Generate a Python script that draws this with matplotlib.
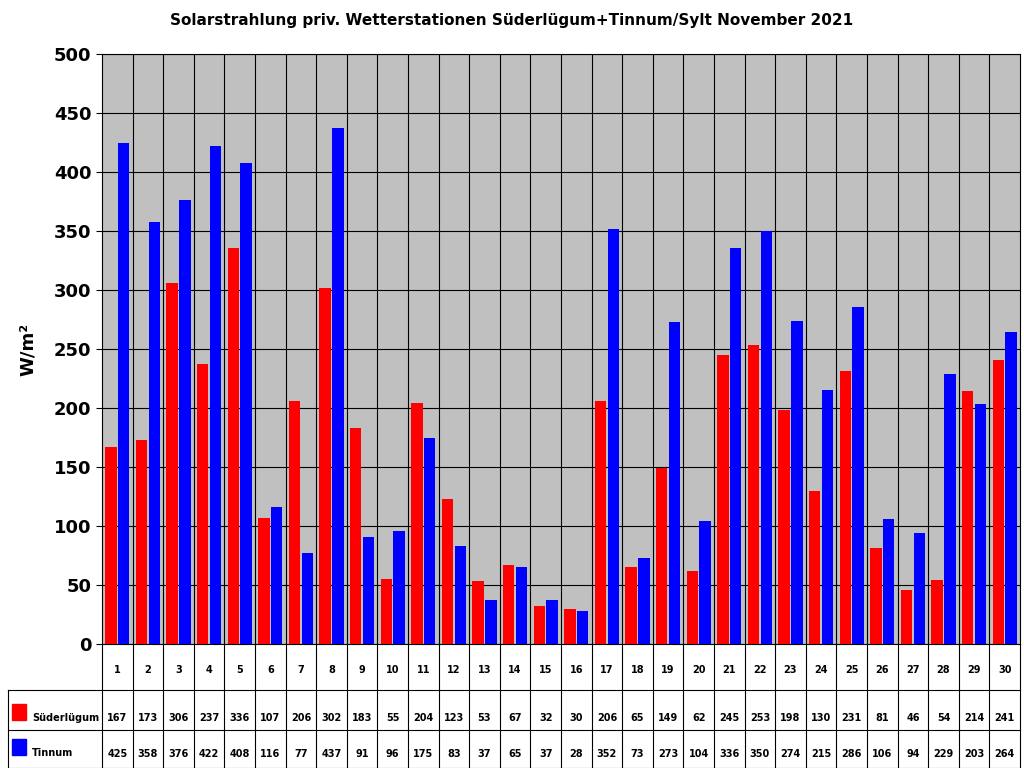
import matplotlib
matplotlib.use("Agg")
import matplotlib.pyplot as plt
from matplotlib.lines import Line2D
from matplotlib.patches import Rectangle

days = list(range(1, 31))
suederluegum = [167,173,306,237,336,107,206,302,183,55,204,123,53,67,32,30,206,65,149,62,245,253,198,130,231,81,46,54,214,241]
tinnum = [425,358,376,422,408,116,77,437,91,96,175,83,37,65,37,28,352,73,273,104,336,350,274,215,286,106,94,229,203,264]
title = "Solarstrahlung priv. Wetterstationen Süderlügum+Tinnum/Sylt November 2021"

W, H = 1024, 768
fig = plt.figure(figsize=(W/100, H/100), dpi=100)
L, R, T, B = 102, 1020, 54, 644
ax = fig.add_axes([L/W, 1-B/H, (R-L)/W, (B-T)/H])
ax.set_facecolor("#c0c0c0")
n = len(days)
x = list(range(n))
ax.bar([i+0.29 for i in x], suederluegum, width=0.37, color="#ff0000", zorder=3)
ax.bar([i+0.71 for i in x], tinnum, width=0.37, color="#0000ff", zorder=3)
ax.set_xlim(0, n)
ax.set_ylim(0, 500)
ax.set_yticks(range(0, 501, 50))
ax.set_xticks([])
for i in range(1, n):
    ax.axvline(i, color="black", lw=0.8, zorder=1)
ax.grid(axis="y", color="black", lw=0.8, zorder=1)
ax.tick_params(axis="y", labelsize=13, length=4)
for lab in ax.get_yticklabels():
    lab.set_fontweight("bold")
ax.set_ylabel("W/m²", fontsize=13, fontweight="bold", labelpad=12)
fig.text(0.5, 1-20/H, title, ha="center", va="center", fontsize=11, fontweight="bold")

def fx(px): return px/W
def fy(py): return 1-py/H
def line(x0, y0, x1, y1):
    fig.add_artist(Line2D([fx(x0), fx(x1)], [fy(y0), fy(y1)], color="black", lw=0.8))

cw = (R-L)/n
rows = [644, 690, 730, 768]
for i in range(n+1):
    line(L+i*cw, 644, L+i*cw, 767)
for y in rows[1:]:
    line(8, y-0.5 if y == 768 else y, R, y-0.5 if y == 768 else y)
line(8, 690, 8, 767)
for i, d in enumerate(days):
    cx = L+(i+0.5)*cw
    fig.text(fx(cx), fy(670), str(d), ha="center", va="center", fontsize=7, fontweight="bold")
    fig.text(fx(cx), fy(718), str(suederluegum[i]), ha="center", va="center", fontsize=7, fontweight="bold")
    fig.text(fx(cx), fy(754), str(tinnum[i]), ha="center", va="center", fontsize=7, fontweight="bold")
for yc, col, name in [(712, "#ff0000", "Süderlügum"), (747, "#0000ff", "Tinnum")]:
    fig.add_artist(Rectangle((fx(12), fy(yc+8)), 14/W, 16/H, color=col))
    fig.text(fx(32), fy(yc+6), name, ha="left", va="center", fontsize=7, fontweight="bold")

fig.savefig("out.png", dpi=100, facecolor="white")
